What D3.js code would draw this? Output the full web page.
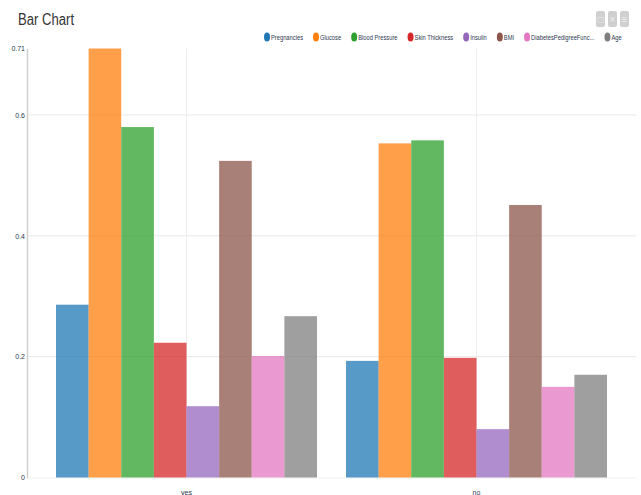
<!DOCTYPE html>
<html>
<head>
<meta charset="utf-8">
<script src="https://cdn.jsdelivr.net/npm/d3@7"></script>
<style>
  html, body { margin: 0; padding: 0; background: #fff; overflow: hidden; }
  svg { display: block; font-family: "Liberation Sans", Arial, sans-serif; }
</style>
</head>
<body>
<svg id="chart" width="641" height="495"></svg>
<script>
// Category and series data
const groups = ["yes", "no"];
const features = ["Pregnancies", "Glucose", "Blood Pressure", "Skin Thickness", "Insulin", "BMI", "DiabetesPedigreeFunc...", "Age"];
const yesValues = [0.286, 0.71, 0.58, 0.223, 0.118, 0.524, 0.201, 0.267];
const noValues = [0.193, 0.553, 0.558, 0.198, 0.08, 0.451, 0.15, 0.17];
const yTicks = [0, 0.2, 0.4, 0.6, 0.71];
const titleText = "Bar Chart";

const svg = d3.select("#chart");
const margin = { left: 27, right: 636, top: 48.5, bottom: 477.5 };

const x = d3.scaleBand().domain(groups)
  .range([margin.left, margin.right]).paddingInner(0.1).paddingOuter(0.1);
const xInner = d3.scaleBand().domain(features).range([0, x.bandwidth()]);
const y = d3.scaleLinear().domain([0, 0.71]).range([margin.bottom, margin.top]);
const color = d3.scaleOrdinal().domain(features).range(d3.schemeCategory10);

// Gridlines: horizontal at each tick, vertical at each group centre
svg.append("g").selectAll("line").data(yTicks.filter(t => t > 0 && t < 0.71)).join("line")
  .attr("x1", margin.left).attr("x2", margin.right)
  .attr("y1", d => y(d)).attr("y2", d => y(d))
  .attr("stroke", "#e8e8e8");
svg.append("g").selectAll("line").data(groups).join("line")
  .attr("x1", d => x(d) + x.bandwidth() / 2).attr("x2", d => x(d) + x.bandwidth() / 2)
  .attr("y1", margin.top).attr("y2", margin.bottom)
  .attr("stroke", "#eeeeee");
svg.append("line")
  .attr("x1", margin.left).attr("x2", margin.right)
  .attr("y1", margin.bottom + 0.5).attr("y2", margin.bottom + 0.5)
  .attr("stroke", "#f0f0f0");

// Grouped bars
const seriesByGroup = { yes: yesValues, no: noValues };
svg.append("g").selectAll("g").data(groups).join("g")
  .attr("transform", g => `translate(${x(g)},0)`)
  .selectAll("rect").data(g => features.map((f, i) => ({ f, v: seriesByGroup[g][i] }))).join("rect")
  .attr("x", d => xInner(d.f))
  .attr("width", xInner.bandwidth())
  .attr("y", d => y(d.v))
  .attr("height", d => y(0) - y(d.v))
  .attr("fill", d => color(d.f))
  .attr("fill-opacity", 0.75);

// Y axis
const yAxis = svg.append("g").attr("transform", `translate(${margin.left},0)`)
  .call(d3.axisLeft(y).tickValues(yTicks).tickSize(0).tickPadding(2).tickFormat(d => String(d)));
yAxis.select(".domain").attr("stroke", "#cfcfcf").attr("stroke-width", 1.5);
yAxis.selectAll("text").attr("font-size", 7).attr("font-family", "Liberation Sans")
  .attr("fill", "#2c3850");

// X axis labels, sitting on the bottom edge
const xAxis = svg.append("g").attr("transform", `translate(0,${margin.bottom})`)
  .call(d3.axisBottom(x).tickSize(0).tickPadding(13));
xAxis.select(".domain").remove();
xAxis.selectAll("text").attr("font-size", 7).attr("font-family", "Liberation Sans")
  .attr("fill", "#2c3850");

// Title
svg.append("text").text(titleText)
  .attr("transform", "translate(18,25) scale(0.82,1)")
  .attr("font-size", 16).attr("fill", "#333");

// Legend: flows left to right, each entry a swatch then its condensed label
const legendScaleX = 0.72, swatchRx = 3, swatchRy = 4.5, labelGap = 1, entryGap = 10;
const legend = svg.append("g");
let cursor = 264;
features.forEach(f => {
  const entry = legend.append("g").attr("transform", `translate(${cursor},37)`);
  entry.append("ellipse").attr("cx", swatchRx).attr("cy", 0)
    .attr("rx", swatchRx).attr("ry", swatchRy).attr("fill", color(f));
  const label = entry.append("text").text(f)
    .attr("transform", `translate(${2 * swatchRx + labelGap},2.8) scale(${legendScaleX},1)`)
    .attr("font-size", 8).attr("fill", "#2c3850");
  const w = label.node().getComputedTextLength() * legendScaleX;
  cursor += 2 * swatchRx + labelGap + w + entryGap;
});

// Toolbox buttons in the top-right corner
const toolGlyphs = ["□", "×", "≡"];
const tools = svg.append("g").selectAll("g").data(toolGlyphs).join("g")
  .attr("transform", (d, i) => `translate(${596 + i * 12},11)`);
tools.append("rect").attr("width", 9).attr("height", 16).attr("rx", 2).attr("fill", "#cfcfcf");
tools.append("text").text(d => d).attr("x", 4.5).attr("y", 11.5)
  .attr("text-anchor", "middle").attr("font-size", 10).attr("fill", "#eeeeee");
</script>
</body>
</html>
